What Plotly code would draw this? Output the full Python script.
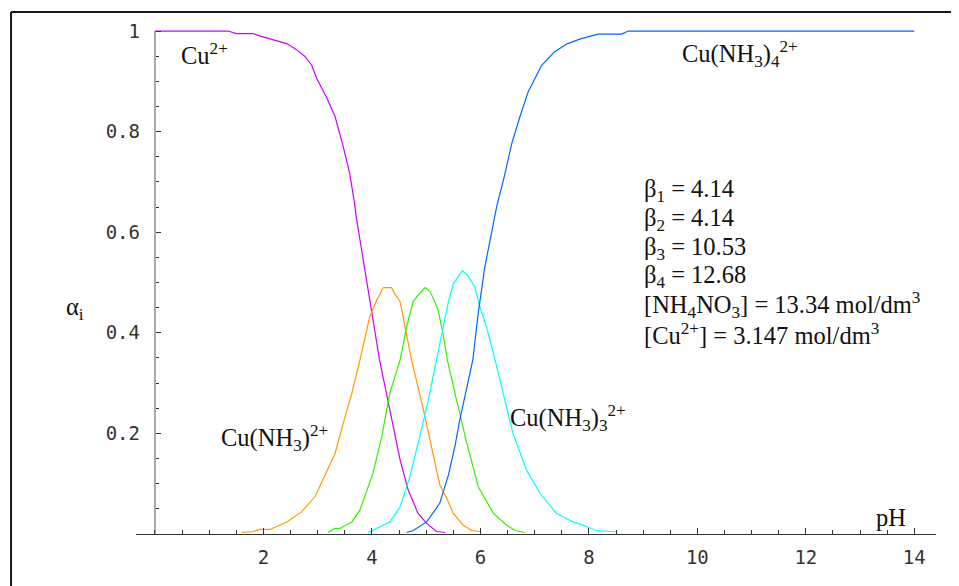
import plotly.graph_objects as go

# ---- data ----
ph_cu = [0, 1.35, 1.5, 1.81, 1.94, 2.21, 2.43, 2.61, 2.76, 2.89, 2.98, 3.16, 3.32, 3.47, 3.59, 3.67, 3.72, 3.84, 3.99, 4.14, 4.33, 4.52, 4.67, 4.85, 5.01, 5.19, 5.35]
a_cu = [1.0, 1.0, 0.995, 0.995, 0.990, 0.981, 0.975, 0.963, 0.950, 0.932, 0.906, 0.869, 0.830, 0.770, 0.717, 0.664, 0.624, 0.545, 0.445, 0.346, 0.247, 0.147, 0.087, 0.041, 0.021, 0.005, 0.003]

ph_1 = [1.60, 1.81, 1.94, 2.12, 2.43, 2.70, 2.95, 3.16, 3.32, 3.47, 3.63, 3.78, 3.96, 4.09, 4.21, 4.36, 4.42, 4.52, 4.61, 4.73, 4.95, 5.13, 5.25, 5.38, 5.50, 5.68, 5.84, 5.99]
a_1 = [0.003, 0.005, 0.009, 0.009, 0.024, 0.044, 0.074, 0.121, 0.160, 0.220, 0.280, 0.346, 0.432, 0.465, 0.490, 0.490, 0.478, 0.462, 0.412, 0.346, 0.247, 0.160, 0.098, 0.071, 0.041, 0.018, 0.007, 0.005]

ph_2 = [3.19, 3.32, 3.41, 3.63, 3.78, 4.02, 4.18, 4.33, 4.52, 4.64, 4.76, 4.85, 4.98, 5.07, 5.16, 5.22, 5.31, 5.39, 5.56, 5.75, 5.96, 6.24, 6.48, 6.64, 6.82]
a_2 = [0.003, 0.011, 0.011, 0.024, 0.048, 0.121, 0.193, 0.280, 0.346, 0.412, 0.462, 0.475, 0.490, 0.482, 0.462, 0.445, 0.399, 0.346, 0.266, 0.180, 0.094, 0.041, 0.018, 0.007, 0.003]

ph_3 = [3.93, 4.09, 4.33, 4.52, 4.70, 4.88, 5.04, 5.19, 5.31, 5.41, 5.50, 5.62, 5.67, 5.76, 5.81, 5.90, 5.99, 6.11, 6.27, 6.42, 6.60, 6.85, 7.10, 7.40, 7.71, 7.96, 8.14, 8.51]
a_3 = [0.003, 0.011, 0.024, 0.054, 0.114, 0.193, 0.266, 0.346, 0.412, 0.462, 0.498, 0.515, 0.523, 0.515, 0.505, 0.490, 0.452, 0.412, 0.346, 0.280, 0.200, 0.127, 0.081, 0.041, 0.024, 0.015, 0.007, 0.004]

ph_4 = [4.64, 4.76, 5.01, 5.25, 5.41, 5.53, 5.62, 5.75, 5.86, 5.96, 6.08, 6.24, 6.30, 6.43, 6.58, 6.73, 6.88, 7.13, 7.37, 7.59, 7.83, 8.17, 8.60, 8.73, 14.0]
a_4 = [0.003, 0.007, 0.024, 0.061, 0.117, 0.174, 0.227, 0.293, 0.346, 0.439, 0.530, 0.618, 0.651, 0.706, 0.777, 0.830, 0.879, 0.932, 0.959, 0.974, 0.984, 0.994, 0.994, 1.0, 1.0]

x_ticks = [2, 4, 6, 8, 10, 12, 14]
x_tick_labels = ["2", "4", "6", "8", "10", "12", "14"]
y_ticks = [0.2, 0.4, 0.6, 0.8, 1.0]
y_tick_labels = ["0.2", "0.4", "0.6", "0.8", "1"]

params = ["β<sub>1</sub> = 4.14", "β<sub>2</sub> = 4.14", "β<sub>3</sub> = 10.53",
          "β<sub>4</sub> = 12.68", "[NH<sub>4</sub>NO<sub>3</sub>] = 13.34 mol/dm<sup>3</sup>",
          "[Cu<sup>2+</sup>] = 3.147 mol/dm<sup>3</sup>"]

series = [
    (ph_cu, a_cu, "#CC00FF"),
    (ph_1, a_1, "#FF9900"),
    (ph_2, a_2, "#33EE00"),
    (ph_3, a_3, "#00FFFF"),
    (ph_4, a_4, "#0066FF"),
]

XMIN, XMAX = -0.35, 14.4
YMIN, YMAX = 0.0, 1.01

# page body has an 8px margin, so the figure is 8px smaller and offset
W, H = 951, 578
ML, MT = 128, 18
PW = 800.2
PH = 508
MR = W - ML - PW
MB = H - MT - PH

fig = go.Figure()
for xs, ys, col in series:
    fig.add_trace(go.Scatter(x=xs, y=ys, mode="lines",
                             line=dict(color=col, width=1.2), showlegend=False,
                             hoverinfo="skip"))

serif = "Liberation Serif"
tick_font = dict(family="DejaVu Sans Mono", size=19, color="#333333")
ann_font = dict(family=serif, size=24.5, color="#111111")

fig.update_layout(
    width=W, height=H, autosize=False,
    margin=dict(l=ML, r=MR, t=MT, b=MB, pad=0),
    paper_bgcolor="white", plot_bgcolor="white",
    xaxis=dict(range=[XMIN, XMAX], showgrid=False, zeroline=False,
               showline=True, linecolor="#333333", linewidth=1,
               tickvals=x_ticks, ticktext=x_tick_labels,
               ticks="inside", ticklen=6, tickcolor="#333333", tickwidth=1,
               tickfont=tick_font, ticklabelstandoff=6,
               minor=dict(dtick=0.5, tick0=0, ticks="inside", ticklen=4,
                          tickcolor="#333333", showgrid=False)),
    yaxis=dict(range=[YMIN, YMAX], showgrid=False, zeroline=False,
               showline=False, anchor="free",
               position=(0 - XMIN) / (XMAX - XMIN),
               tickvals=y_ticks, ticktext=y_tick_labels,
               ticks="inside", ticklen=5, tickcolor="#333333", tickwidth=1,
               tickfont=tick_font, ticklabelstandoff=15,
               minor=dict(dtick=0.05, tick0=0, ticks="inside", ticklen=3,
                          tickcolor="#333333", showgrid=False)),
)

# y axis line from 0 to 1 at pH = 0
fig.add_shape(type="line", xref="x", yref="y", x0=0, x1=0, y0=0, y1=1.0,
              line=dict(color="#555555", width=1))

# outer frame (left and top edges visible); page px 11 / 12
fx = (11 - 8 - ML) / PW
fy = (MT + PH - (12 - 8)) / PH
fig.add_shape(type="line", xref="paper", yref="paper", x0=fx, x1=fx,
              y0=-0.3, y1=fy, line=dict(color="#1a1a1a", width=2))
fig.add_shape(type="line", xref="paper", yref="paper", x0=fx, x1=1.2,
              y0=fy, y1=fy, line=dict(color="#1a1a1a", width=2))

labels = [
    ("Cu<sup>2+</sup>", 0.45, 0.955),
    ("Cu(NH<sub>3</sub>)<sub>4</sub><sup>2+</sup>", 9.68, 0.955),
    ("Cu(NH<sub>3</sub>)<sup>2+</sup>", 1.18, 0.19),
    ("Cu(NH<sub>3</sub>)<sub>3</sub><sup>2+</sup>", 6.51, 0.23),
    ("pH", 13.25, 0.033),
]
for txt, x, y in labels:
    fig.add_annotation(text=txt, x=x, y=y, xref="x", yref="y", showarrow=False,
                       xanchor="left", yanchor="middle", font=ann_font)

for i, txt in enumerate(params):
    y = 0.682 - i * 0.0568
    fig.add_annotation(text=txt, x=8.98, y=y, xref="x", yref="y", showarrow=False,
                       xanchor="left", yanchor="middle", font=ann_font)

fig.add_annotation(text="α<sub>i</sub>", x=(64 - 8 - ML) / PW, y=(MT + PH - (308 - 8)) / PH,
                   xref="paper", yref="paper", showarrow=False,
                   xanchor="left", yanchor="middle", font=ann_font)

fig.write_html("out.html")
